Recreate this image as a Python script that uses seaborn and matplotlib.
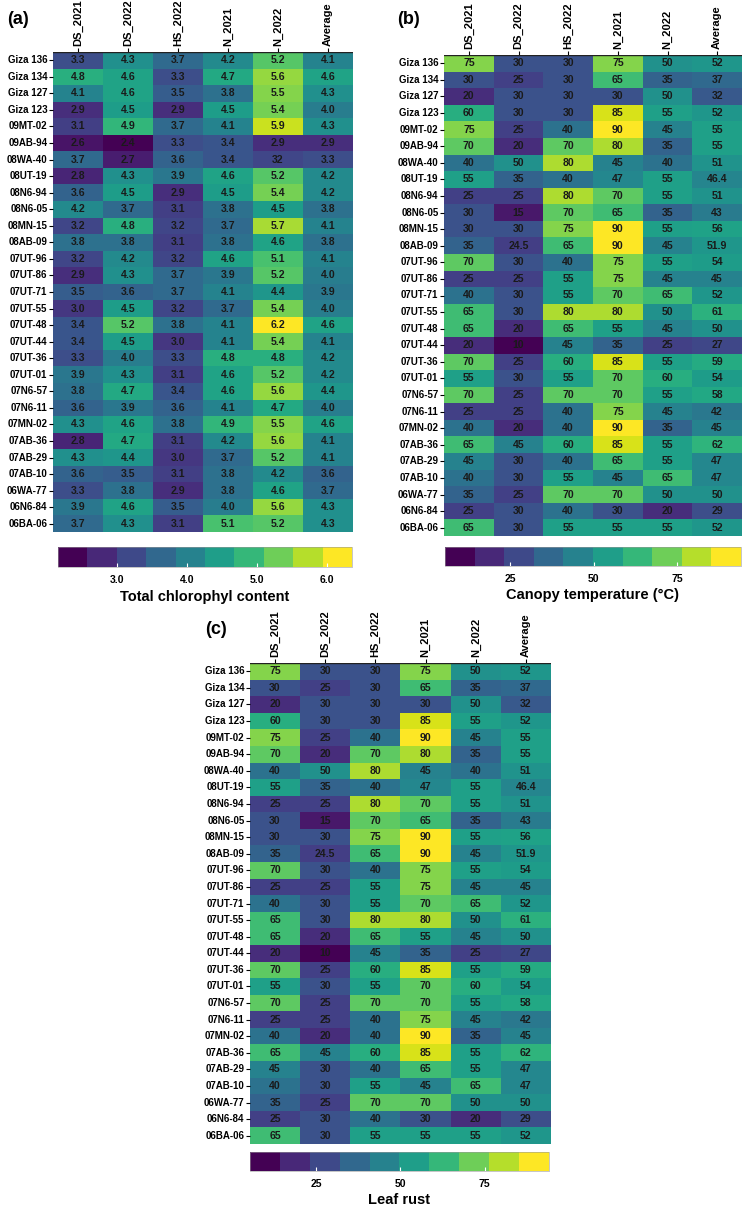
import numpy as np
import pandas as pd
import matplotlib
matplotlib.use("Agg")
import matplotlib.pyplot as plt
import seaborn as sns
from matplotlib.colors import Normalize
from matplotlib.cm import ScalarMappable

genotypes = ["Giza 136", "Giza 134", "Giza 127", "Giza 123", "09MT-02", "09AB-94",
             "08WA-40", "08UT-19", "08N6-94", "08N6-05", "08MN-15", "08AB-09",
             "07UT-96", "07UT-86", "07UT-71", "07UT-55", "07UT-48", "07UT-44",
             "07UT-36", "07UT-01", "07N6-57", "07N6-11", "07MN-02", "07AB-36",
             "07AB-29", "07AB-10", "06WA-77", "06N6-84", "06BA-06"]
conditions = ["DS_2021", "DS_2022", "HS_2022", "N_2021", "N_2022", "Average"]

chlorophyll = [
    [3.3, 4.3, 3.7, 4.2, 5.2, 4.1],
    [4.8, 4.6, 3.3, 4.7, 5.6, 4.6],
    [4.1, 4.6, 3.5, 3.8, 5.5, 4.3],
    [2.9, 4.5, 2.9, 4.5, 5.4, 4.0],
    [3.1, 4.9, 3.7, 4.1, 5.9, 4.3],
    [2.6, 2.4, 3.3, 3.4, 2.9, 2.9],
    [3.7, 2.7, 3.6, 3.4, 3.2, 3.3],
    [2.8, 4.3, 3.9, 4.6, 5.2, 4.2],
    [3.6, 4.5, 2.9, 4.5, 5.4, 4.2],
    [4.2, 3.7, 3.1, 3.8, 4.5, 3.8],
    [3.2, 4.8, 3.2, 3.7, 5.7, 4.1],
    [3.8, 3.8, 3.1, 3.8, 4.6, 3.8],
    [3.2, 4.2, 3.2, 4.6, 5.1, 4.1],
    [2.9, 4.3, 3.7, 3.9, 5.2, 4.0],
    [3.5, 3.6, 3.7, 4.1, 4.4, 3.9],
    [3.0, 4.5, 3.2, 3.7, 5.4, 4.0],
    [3.4, 5.2, 3.8, 4.1, 6.2, 4.6],
    [3.4, 4.5, 3.0, 4.1, 5.4, 4.1],
    [3.3, 4.0, 3.3, 4.8, 4.8, 4.2],
    [3.9, 4.3, 3.1, 4.6, 5.2, 4.2],
    [3.8, 4.7, 3.4, 4.6, 5.6, 4.4],
    [3.6, 3.9, 3.6, 4.1, 4.7, 4.0],
    [4.3, 4.6, 3.8, 4.9, 5.5, 4.6],
    [2.8, 4.7, 3.1, 4.2, 5.6, 4.1],
    [4.3, 4.4, 3.0, 3.7, 5.2, 4.1],
    [3.6, 3.5, 3.1, 3.8, 4.2, 3.6],
    [3.3, 3.8, 2.9, 3.8, 4.6, 3.7],
    [3.9, 4.6, 3.5, 4.0, 5.6, 4.3],
    [3.7, 4.3, 3.1, 5.1, 5.2, 4.3],
]

canopy_temp = [
    [75, 30, 30, 75, 50, 52],
    [30, 25, 30, 65, 35, 37],
    [20, 30, 30, 30, 50, 32],
    [60, 30, 30, 85, 55, 52],
    [75, 25, 40, 90, 45, 55],
    [70, 20, 70, 80, 35, 55],
    [40, 50, 80, 45, 40, 51],
    [55, 35, 40, 47, 55, 46.4],
    [25, 25, 80, 70, 55, 51],
    [30, 15, 70, 65, 35, 43],
    [30, 30, 75, 90, 55, 56],
    [35, 24.5, 65, 90, 45, 51.9],
    [70, 30, 40, 75, 55, 54],
    [25, 25, 55, 75, 45, 45],
    [40, 30, 55, 70, 65, 52],
    [65, 30, 80, 80, 50, 61],
    [65, 20, 65, 55, 45, 50],
    [20, 10, 45, 35, 25, 27],
    [70, 25, 60, 85, 55, 59],
    [55, 30, 55, 70, 60, 54],
    [70, 25, 70, 70, 55, 58],
    [25, 25, 40, 75, 45, 42],
    [40, 20, 40, 90, 35, 45],
    [65, 45, 60, 85, 55, 62],
    [45, 30, 40, 65, 55, 47],
    [40, 30, 55, 45, 65, 47],
    [35, 25, 70, 70, 50, 50],
    [25, 30, 40, 30, 20, 29],
    [65, 30, 55, 55, 55, 52],
]

leaf_rust = [
    [75, 30, 30, 75, 50, 52],
    [30, 25, 30, 65, 35, 37],
    [20, 30, 30, 30, 50, 32],
    [60, 30, 30, 85, 55, 52],
    [75, 25, 40, 90, 45, 55],
    [70, 20, 70, 80, 35, 55],
    [40, 50, 80, 45, 40, 51],
    [55, 35, 40, 47, 55, 46.4],
    [25, 25, 80, 70, 55, 51],
    [30, 15, 70, 65, 35, 43],
    [30, 30, 75, 90, 55, 56],
    [35, 24.5, 65, 90, 45, 51.9],
    [70, 30, 40, 75, 55, 54],
    [25, 25, 55, 75, 45, 45],
    [40, 30, 55, 70, 65, 52],
    [65, 30, 80, 80, 50, 61],
    [65, 20, 65, 55, 45, 50],
    [20, 10, 45, 35, 25, 27],
    [70, 25, 60, 85, 55, 59],
    [55, 30, 55, 70, 60, 54],
    [70, 25, 70, 70, 55, 58],
    [25, 25, 40, 75, 45, 42],
    [40, 20, 40, 90, 35, 45],
    [65, 45, 60, 85, 55, 62],
    [45, 30, 40, 65, 55, 47],
    [40, 30, 55, 45, 65, 47],
    [35, 25, 70, 70, 50, 50],
    [25, 30, 40, 30, 20, 29],
    [65, 30, 55, 55, 55, 52],
]

cbar_ticks_a = [3.0, 4.0, 5.0, 6.0]
cbar_ticks_bc = [25, 50, 75]

plt.rcParams['font.family'] = ['Liberation Sans', 'DejaVu Sans']

fig = plt.figure(figsize=(7.44, 12.09), dpi=100)

W, H = 744.0, 1209.0
def box(x0, y0, x1, y1):
    return [x0 / W, 1 - y1 / H, (x1 - x0) / W, (y1 - y0) / H]

viridis10 = plt.get_cmap('viridis', 10)

panels = [
    dict(data=chlorophyll, ax=box(53, 52, 353, 532), cax=box(58, 547, 352, 567),
         cb_range=(2.15, 6.36), ticks=cbar_ticks_a, tickfmt="{:.1f}",
         label="Total chlorophyl content", tag="(a)", tagpos=(7, 19), fmt=".1f"),
    dict(data=canopy_temp, ax=box(444, 55, 742, 536), cax=box(445, 547, 741, 566),
         cb_range=(5.5, 94), ticks=cbar_ticks_bc, tickfmt="{:d}",
         label="Canopy temperature (°C)", tag="(b)", tagpos=(397, 19), fmt="g"),
    dict(data=leaf_rust, ax=box(250, 663, 551, 1144), cax=box(250, 1152, 549, 1171),
         cb_range=(5.5, 94), ticks=cbar_ticks_bc, tickfmt="{:d}",
         label="Leaf rust", tag="(c)", tagpos=(205, 630), fmt="g"),
]

for i, p in enumerate(panels):
    df = pd.DataFrame(p["data"], index=genotypes, columns=conditions)
    ax = fig.add_axes(p["ax"])
    if i == 0:
        annot = df.map(lambda v: f"{v:.1f}").values
        annot[6, 4] = "32"
        fmt = ""
    else:
        annot = True
        fmt = p["fmt"]
    sns.heatmap(df, ax=ax, cmap="viridis", vmin=df.values.min(), vmax=df.values.max(),
                annot=annot, fmt=fmt, cbar=False,
                annot_kws=dict(color="#1a1a1a", fontsize=7.6, fontweight="bold"))
    ax.xaxis.tick_top()
    ax.set_xlabel("")
    ax.set_ylabel("")
    ax.tick_params(axis='x', labelrotation=90, labelsize=8, length=3, width=0.8, pad=1)
    ax.tick_params(axis='y', labelrotation=0, labelsize=7, length=3, width=0.8, pad=1)
    for t in ax.get_xticklabels() + ax.get_yticklabels():
        t.set_fontweight("bold")
    ax.axhline(0, color="#222222", lw=1.0)

    cax = fig.add_axes(p["cax"])
    sm = ScalarMappable(norm=Normalize(*p["cb_range"]), cmap=viridis10)
    cb = fig.colorbar(sm, cax=cax, orientation="horizontal")
    cb.outline.set_linewidth(0.4)
    cb.outline.set_edgecolor("#999999")
    cb.set_ticks(p["ticks"])
    cb.set_ticklabels([p["tickfmt"].format(t) for t in p["ticks"]])
    cax.tick_params(direction="in", length=3, color="white", labelsize=7.5, pad=6)
    for t in cax.get_xticklabels():
        t.set_fontweight("bold")
    cb.set_label(p["label"], fontsize=10.5, fontweight="bold", labelpad=3)

    fig.text(p["tagpos"][0] / W, 1 - p["tagpos"][1] / H, p["tag"],
             fontsize=13, fontweight="bold", va="center", ha="left")

fig.savefig("out.png", dpi=100)
